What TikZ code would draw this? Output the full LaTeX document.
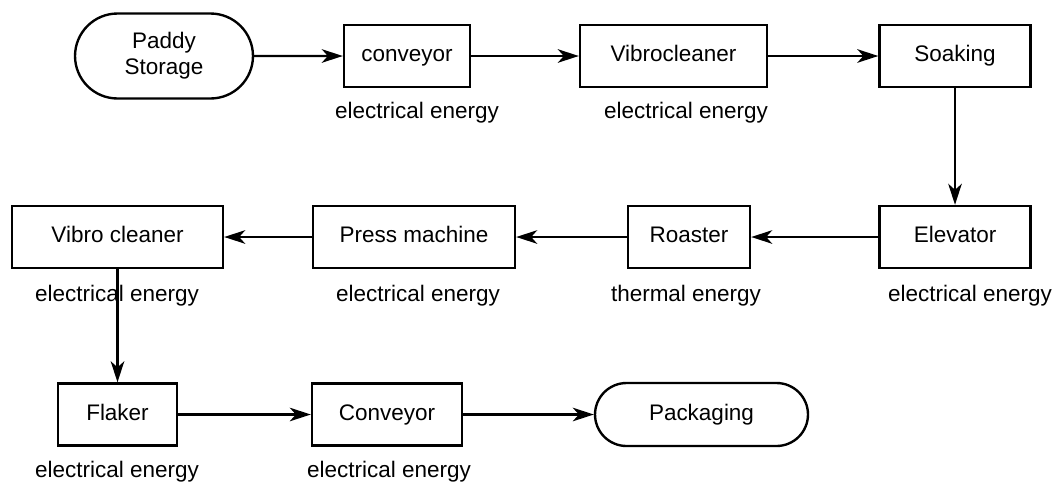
\documentclass[tikz,border=0pt]{standalone}
\usepackage{fontspec}
\setmainfont{Liberation Sans}
\usetikzlibrary{arrows.meta,positioning,shapes.misc}

\begin{document}
\begin{tikzpicture}[x=0.02cm, y=-0.02cm,
    box/.style={draw, line width=1.35pt, minimum height=1.24cm, inner sep=0pt, text height=9.4pt, text depth=2.8pt, font=\fontsize{12.8}{15}\selectfont},
    term/.style={draw, rounded rectangle, line width=1.35pt, inner sep=0pt, align=center, font=\fontsize{12.8}{15}\selectfont},
    lbl/.style={font=\fontsize{12.8}{15}\selectfont, inner sep=0pt, text height=9.4pt, text depth=2.8pt},
    flow/.style={-{Stealth[length=0.42cm, width=0.27cm, inset=0.12cm]}, line width=1.35pt}]
  \useasboundingbox (0,0) rectangle (1054,484);

  % Row 1
  \node[term, minimum width=3.56cm, minimum height=1.7cm] (paddy) at (164,56) {Paddy\\Storage};
  \node[box, minimum width=2.52cm] (conv1) at (407,56) {conveyor};
  \node[box, minimum width=3.74cm] (vibro1) at (673.5,56) {Vibrocleaner};
  \node[box, minimum width=3.02cm] (soak) at (955,56) {Soaking};

  % Row 2
  \node[box, minimum width=3.02cm] (elev) at (955,237) {Elevator};
  \node[box, minimum width=2.44cm] (roast) at (689,237) {Roaster};
  \node[box, minimum width=4.04cm] (press) at (414,237) {Press machine};
  \node[box, minimum width=4.22cm] (vibro2) at (117.5,237) {Vibro cleaner};

  % Row 3
  \node[box, minimum width=2.38cm] (flaker) at (117.5,414.5) {Flaker};
  \node[box, minimum width=3.0cm] (conv2) at (387,414.5) {Conveyor};
  \node[term, minimum width=4.26cm, minimum height=1.26cm, text height=9.4pt, text depth=2.8pt] (pack) at (701.5,414.5) {Packaging};

  % Energy labels
  \node[lbl] (e1) at (417,113) {electrical energy};
  \node[lbl] (e2) at (686,113) {electrical energy};
  \node[lbl] (e3) at (117,296) {electrical energy};
  \node[lbl] (e4) at (418,296) {electrical energy};
  \node[lbl] (e5) at (686,296) {thermal energy};
  \node[lbl] (e6) at (970,296) {electrical energy};
  \node[lbl] (e7) at (117,472) {electrical energy};
  \node[lbl] (e8) at (389,472) {electrical energy};

  % Flow
  \draw[flow] (paddy) -- (conv1);
  \draw[flow] (conv1) -- (vibro1);
  \draw[flow] (vibro1) -- (soak);
  \draw[flow] (soak) -- (elev);
  \draw[flow] (elev) -- (roast);
  \draw[flow] (roast) -- (press);
  \draw[flow] (press) -- (vibro2);
  \draw[flow] (vibro2.south) -- (flaker.north);
  \draw[flow] (flaker) -- (conv2);
  \draw[flow] (conv2) -- (pack);
\end{tikzpicture}
\end{document}
